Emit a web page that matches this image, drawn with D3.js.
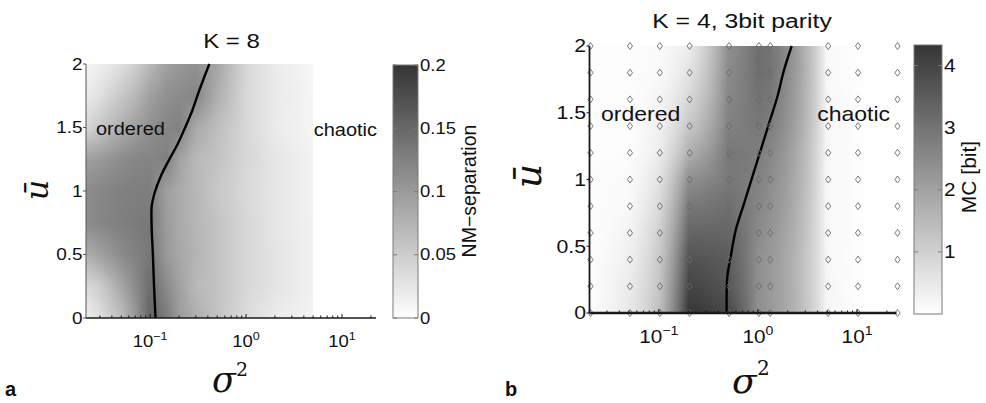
<!DOCTYPE html>
<html>
<head>
<meta charset="utf-8">
<title>NM-separation and memory capacity</title>
<script src="https://d3js.org/d3.v7.min.js"></script>
<style>
  body { margin: 0; background: #fff; }
  svg text { font-family: "Liberation Sans", Arial, sans-serif; fill: #111; }
  svg text.math { font-family: "DejaVu Serif", "Liberation Serif", serif; font-style: italic; }
  svg text.up { font-family: "DejaVu Serif", "Liberation Serif", serif; }
</style>
</head>
<body>
<svg id="fig" width="986" height="403"></svg>
<script>
// ---- panel a: K = 8, NM-separation ----
const sigmaA = [0.0215, 0.03, 0.05, 0.07, 0.1, 0.15, 0.2, 0.3, 0.5, 1, 2, 5]
const uA = [0, 0.25, 0.5, 0.75, 1.0, 1.25, 1.5, 1.75, 2.0]
const nmSep = [
  [0.015, 0.031, 0.065, 0.100, 0.155, 0.130, 0.100, 0.080, 0.060, 0.035, 0.020, 0.012],
  [0.037, 0.050, 0.087, 0.114, 0.146, 0.115, 0.094, 0.070, 0.060, 0.040, 0.027, 0.014],
  [0.080, 0.094, 0.114, 0.125, 0.135, 0.100, 0.087, 0.075, 0.060, 0.040, 0.027, 0.014],
  [0.114, 0.120, 0.127, 0.130, 0.133, 0.098, 0.085, 0.073, 0.060, 0.040, 0.025, 0.013],
  [0.115, 0.120, 0.125, 0.127, 0.128, 0.095, 0.085, 0.072, 0.055, 0.038, 0.025, 0.012],
  [0.094, 0.100, 0.114, 0.120, 0.122, 0.125, 0.094, 0.070, 0.060, 0.040, 0.025, 0.012],
  [0.040, 0.055, 0.080, 0.094, 0.110, 0.120, 0.125, 0.086, 0.065, 0.040, 0.020, 0.010],
  [0.020, 0.031, 0.055, 0.070, 0.094, 0.110, 0.115, 0.120, 0.080, 0.040, 0.021, 0.010],
  [0.010, 0.015, 0.031, 0.047, 0.070, 0.094, 0.102, 0.110, 0.090, 0.040, 0.020, 0.008]
]
const borderA_sigma = [0.114, 0.110, 0.107, 0.104, 0.104, 0.111, 0.130, 0.159, 0.194, 0.232, 0.274, 0.318, 0.368, 0.415]
const borderA_u = [0, 0.25, 0.5, 0.7, 0.88, 0.98, 1.12, 1.25, 1.37, 1.5, 1.63, 1.77, 1.9, 2.0]
const cbTicksA = [0, 0.05, 0.1, 0.15, 0.2]

// ---- panel b: K = 4, 3bit parity, MC ----
const sigmaB = [0.02, 0.05, 0.1, 0.2, 0.5, 1, 1.3, 5, 10, 25]
const uB = [0, 0.2, 0.4, 0.6, 0.8, 1.0, 1.2, 1.4, 1.6, 1.8, 2.0]
const mcBit = [
  [0.08, 0.50, 1.35, 4.30, 3.90, 2.40, 2.20, 0.20, 0.03, 0.02],
  [0.06, 0.45, 1.25, 4.00, 3.60, 2.40, 2.20, 0.18, 0.03, 0.02],
  [0.05, 0.35, 1.15, 3.70, 3.50, 2.40, 2.20, 0.16, 0.03, 0.02],
  [0.05, 0.25, 1.00, 3.30, 3.30, 2.50, 2.30, 0.15, 0.03, 0.02],
  [0.05, 0.15, 0.80, 2.90, 3.10, 2.60, 2.40, 0.15, 0.03, 0.02],
  [0.05, 0.10, 0.60, 2.40, 2.90, 2.70, 2.50, 0.15, 0.03, 0.02],
  [0.05, 0.05, 0.40, 1.70, 2.90, 2.80, 2.60, 0.15, 0.03, 0.02],
  [0.05, 0.05, 0.30, 1.20, 2.70, 2.90, 2.80, 0.15, 0.03, 0.02],
  [0.05, 0.05, 0.20, 0.85, 2.60, 3.00, 2.90, 0.15, 0.03, 0.02],
  [0.05, 0.05, 0.12, 0.60, 2.50, 3.10, 3.00, 0.12, 0.03, 0.02],
  [0.05, 0.05, 0.10, 0.40, 2.40, 3.10, 3.00, 0.10, 0.03, 0.02]
]
const borderB_sigma = [0.484, 0.491, 0.531, 0.597, 0.724, 0.878, 1.067, 1.294, 1.570, 1.834, 2.19]
const borderB_u = [0, 0.27, 0.42, 0.62, 0.82, 1.02, 1.22, 1.42, 1.62, 1.82, 2.0]
const cbTicksB = [1, 2, 3, 4]

const uTicks = [0, 0.5, 1, 1.5, 2]
const sigmaTicks = [0.1, 1, 10]
const sigmaTickExp = ["\u22121", "0", "1"]

const svg = d3.select("#fig")
const defs = svg.append("defs")

// text helper: horizontal stretch sx to mimic the wide glyphs of the figure
function txt(g, x, y, s, o = {}){
  const t = g.append("text")
    .attr("transform", `translate(${x},${y})` + (o.rot ? ` rotate(${o.rot})` : "") + ` scale(${o.sx || 1},1)`)
    .attr("text-anchor", o.anchor || "start")
    .style("font-size", (o.size || 16) + "px")
    .text(s)
  if(o.cls) t.attr("class", o.cls)
  if(o.bold) t.style("font-weight", "bold")
  if(o.baseline) t.attr("dominant-baseline", o.baseline)
  return t
}

// heat map: horizontal strips, each filled with a gradient sampled from a bilinear interpolation
function heat(id, xs, ys, cols, rows, grid, color, logCols){
  const g = svg.append("g")
  const x0 = xs(cols[0]), x1 = xs(cols[cols.length - 1])
  const yTop = ys(rows[rows.length - 1]), yBot = ys(rows[0])
  const cx = logCols ? cols.map(Math.log10) : cols
  function val(s, u){
    let i = Math.min(Math.max(d3.bisectRight(rows, u) - 1, 0), rows.length - 2)
    let tu = Math.max(0, Math.min(1, (u - rows[i]) / (rows[i + 1] - rows[i])))
    let c = logCols ? Math.log10(s) : s
    let j = Math.min(Math.max(d3.bisectRight(cx, c) - 1, 0), cx.length - 2)
    let ts = Math.max(0, Math.min(1, (c - cx[j]) / (cx[j + 1] - cx[j])))
    const a = grid[i][j] * (1 - ts) + grid[i][j + 1] * ts
    const b = grid[i + 1][j] * (1 - ts) + grid[i + 1][j + 1] * ts
    return a * (1 - tu) + b * tu
  }
  const step = 2
  let k = 0
  for(let py = yTop; py < yBot; py += step, k++){
    const u = ys.invert(Math.min(py + step / 2, yBot))
    const gid = id + k
    const grad = defs.append("linearGradient").attr("id", gid)
      .attr("gradientUnits", "userSpaceOnUse")
      .attr("x1", x0).attr("x2", x1).attr("y1", 0).attr("y2", 0)
    const xsamp = d3.range(x0, x1, 3).concat([x1])
    xsamp.forEach(px => {
      grad.append("stop").attr("offset", (px - x0) / (x1 - x0))
        .attr("stop-color", color(val(xs.invert(px), u)))
    })
    g.append("rect").attr("x", x0).attr("y", py)
      .attr("width", x1 - x0).attr("height", Math.min(step + 0.7, yBot - py))
      .attr("fill", `url(#${gid})`)
  }
}

function minorTicks(xs){
  const [a, b] = xs.domain(), out = []
  ;[0.01, 0.1, 1, 10].forEach(d => d3.range(2, 10).forEach(k => { const v = d * k; if(v >= a && v <= b) out.push(v) }))
  return out
}

function colorbar(id, x, w, cs, ticks, fmt, fs){
  const [y1, y0] = cs.range()
  const lg = defs.append("linearGradient").attr("id", id).attr("x1", 0).attr("x2", 0).attr("y1", 1).attr("y2", 0)
  lg.append("stop").attr("offset", 0).attr("stop-color", "#ffffff")
  lg.append("stop").attr("offset", 1).attr("stop-color", "#353535")
  svg.append("rect").attr("x", x).attr("y", y0).attr("width", w).attr("height", y1 - y0)
    .attr("fill", `url(#${id})`).attr("stroke", "#7a7a7a").attr("stroke-width", 1)
  const tg = svg.append("g")
  ticks.forEach(v => {
    const y = cs(v)
    tg.append("line").attr("x1", x).attr("x2", x + 4).attr("y1", y).attr("y2", y).attr("stroke", "#7a7a7a")
    tg.append("line").attr("x1", x + w - 4).attr("x2", x + w).attr("y1", y).attr("y2", y).attr("stroke", "#7a7a7a")
    txt(tg, x + w + 2, y, fmt(v), {size: fs, sx: 1.12, baseline: "central"})
  })
}

function panel(p){
  const {xs, ys, fs, axisColor, axisW} = p
  const [xl, xr] = xs.range(), [yb, yt] = ys.range()
  const g = svg.append("g")
  // axes lines
  g.append("line").attr("x1", xl).attr("x2", xl).attr("y1", yt).attr("y2", yb)
    .attr("stroke", axisColor).attr("stroke-width", axisW)
  g.append("line").attr("x1", xl).attr("x2", xr).attr("y1", yb).attr("y2", yb)
    .attr("stroke", "#1a1a1a").attr("stroke-width", axisW + 0.5)
  // y ticks
  uTicks.forEach(v => {
    g.append("line").attr("x1", xl - 3).attr("x2", xl).attr("y1", ys(v)).attr("y2", ys(v))
      .attr("stroke", axisColor)
    txt(g, xl - 3.5, ys(v), String(v), {size: fs, anchor: "end", sx: 1.15, baseline: "central"})
  })
  // x ticks (log)
  minorTicks(xs).forEach(v => {
    g.append("line").attr("x1", xs(v)).attr("x2", xs(v)).attr("y1", yb).attr("y2", yb - 2.5)
      .attr("stroke", "#1a1a1a")
  })
  sigmaTicks.forEach((v, i) => {
    g.append("line").attr("x1", xs(v)).attr("x2", xs(v)).attr("y1", yb).attr("y2", yb - 4)
      .attr("stroke", "#1a1a1a")
    const t = txt(g, xs(v), p.xlabY, "10", {size: fs, anchor: "middle", sx: 1.12})
    t.append("tspan").attr("dy", -fs * 0.45).style("font-size", (fs * 0.68) + "px").text(sigmaTickExp[i])
  })
}

// ---------- panel a ----------
const xA = d3.scaleLog().domain([0.0215, 22.6]).range([86, 376])
const yA = d3.scaleLinear().domain([0, 2]).range([318, 64])
const colA = d3.scaleLinear().domain([0, 0.2]).range(["#ffffff", "#353535"]).clamp(true)

heat("ha", xA, yA, sigmaA, uA, nmSep, colA, true)

svg.append("path")
  .datum(borderA_sigma.map((s, i) => [s, borderA_u[i]]))
  .attr("fill", "none").attr("stroke", "#000").attr("stroke-width", 2.4)
  .attr("d", d3.line().x(d => xA(d[0])).y(d => yA(d[1])).curve(d3.curveCatmullRom))

panel({xs: xA, ys: yA, fs: 16.5, axisColor: "#555", axisW: 1, xlabY: 347})

txt(svg, 96, 135, "ordered", {size: 18.5, sx: 1.08})
txt(svg, 377, 136, "chaotic", {size: 18.5, anchor: "end", sx: 1.08})
txt(svg, 231.5, 48, "K = 8", {size: 20, anchor: "middle", sx: 1.2})

colorbar("cbA", 393, 25, d3.scaleLinear().domain([0, 0.2]).range([318, 65]), cbTicksA, d => String(d), 16.5)
txt(svg, 469, 191, "NM\u2212separation", {size: 19.5, anchor: "middle", rot: -90, baseline: "central"})

txt(svg, 48, 190, "\u016B", {size: 32, anchor: "middle", rot: -90, cls: "math"})
txt(svg, 212, 392, "\u03C3", {size: 35, cls: "math"})
txt(svg, 236, 376, "2", {size: 19, cls: "up"})
txt(svg, 5, 396, "a", {size: 20, bold: true})

// ---------- panel b ----------
const xB = d3.scaleLog().domain([0.02, 25]).range([589.5, 896.5])
const yB = d3.scaleLinear().domain([0, 2]).range([313, 46])
const colB = d3.scaleLinear().domain([0, 4.33]).range(["#ffffff", "#353535"]).clamp(true)

heat("hb", xB, yB, sigmaB, uB, mcBit, colB, false)

svg.append("path")
  .datum(borderB_sigma.map((s, i) => [s, borderB_u[i]]))
  .attr("fill", "none").attr("stroke", "#000").attr("stroke-width", 2.4)
  .attr("d", d3.line().x(d => xB(d[0])).y(d => yB(d[1])).curve(d3.curveCatmullRom))

// sample points of the MC grid
const pts = []
uB.forEach(u => sigmaB.forEach(s => pts.push([s, u])))
svg.append("g").selectAll("path").data(pts).join("path")
  .attr("transform", d => `translate(${xB(d[0]) + 1},${yB(d[1])})`)
  .attr("d", "M0,-3.5L2.6,0L0,3.5L-2.6,0Z")
  .attr("fill", "none").attr("stroke", "#6a6a6a").attr("stroke-width", 0.9)

panel({xs: xB, ys: yB, fs: 18.5, axisColor: "#1a1a1a", axisW: 1.8, xlabY: 343})

txt(svg, 601, 121, "ordered", {size: 20, sx: 1.15})
txt(svg, 890, 121, "chaotic", {size: 20, anchor: "end", sx: 1.15})
txt(svg, 742, 28, "K = 4, 3bit parity", {size: 21, anchor: "middle", sx: 1.18})

colorbar("cbB", 914, 28, d3.scaleLinear().domain([0, 4.33]).range([314, 45]), cbTicksB, d => String(d), 18.5)
txt(svg, 968, 177, "MC [bit]", {size: 21, anchor: "middle", rot: -90, baseline: "central"})

txt(svg, 541, 176, "\u016B", {size: 38, anchor: "middle", rot: -90, cls: "math"})
txt(svg, 732, 393, "\u03C3", {size: 36, cls: "math"})
txt(svg, 757, 375, "2", {size: 20, cls: "up"})
txt(svg, 505, 396, "b", {size: 20, bold: true})
</script>
</body>
</html>
